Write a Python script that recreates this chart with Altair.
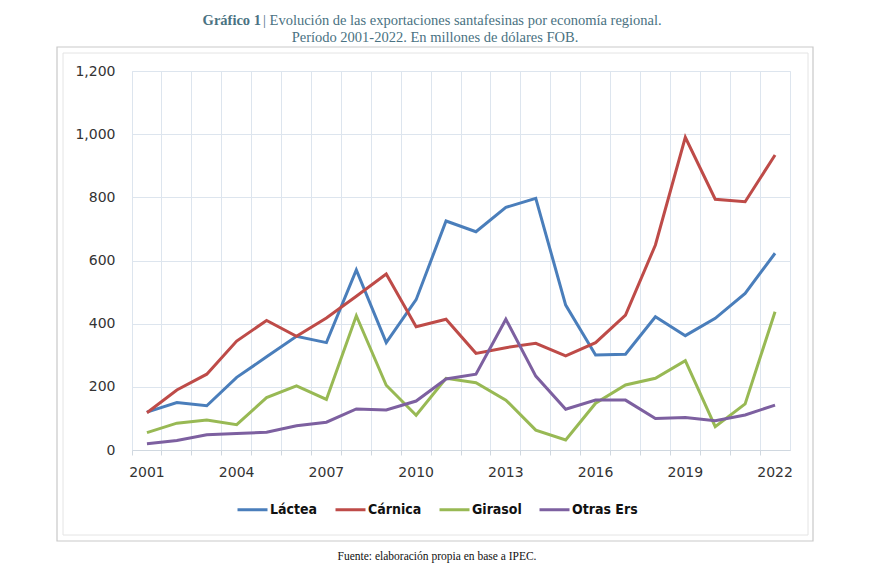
import altair as alt
import pandas as pd

years = list(range(2001, 2023))
lactea = [120, 150, 140, 230, 295, 360, 340, 570, 340, 476, 725, 691, 768, 797, 459, 301, 303, 422, 362, 417, 496, 623]
carnica = [118, 190, 240, 345, 410, 360, 418, 487, 557, 390, 414, 306, 324, 338, 298, 340, 427, 649, 990, 794, 786, 934]
girasol = [55, 85, 95, 80, 166, 203, 160, 425, 205, 110, 227, 213, 158, 63, 32, 148, 206, 227, 283, 74, 146, 438]
otras = [20, 30, 48, 52, 56, 77, 88, 130, 127, 155, 225, 240, 414, 234, 129, 158, 158, 100, 103, 93, 111, 142]

series_names = ["Láctea", "Cárnica", "Girasol", "Otras Ers"]
series_colors = ["#4a7ebb", "#be4b48", "#98b954", "#7d60a0"]

rows = []
for name, vals in zip(series_names, [lactea, carnica, girasol, otras]):
    for y, v in zip(years, vals):
        rows.append({"year": str(y), "serie": name, "valor": v})
df = pd.DataFrame(rows)

W, H = 658, 379
grid_color = "#dde5ee"

lines = alt.Chart(df).mark_line(strokeWidth=3).encode(
    x=alt.X(
        "year:O",
        scale=alt.Scale(type="band", paddingInner=0, paddingOuter=0),
        bandPosition=0.5,
        title=None,
        axis=alt.Axis(
            bandPosition=0,
            labelExpr="(+datum.value - 2001) % 3 == 0 ? datum.value : ''",
            labelAngle=0,
            grid=True,
            gridColor=grid_color,
            domainColor="#d0d8e0",
            tickColor="#d0d8e0",
            tickSize=5,
            labelPadding=10,
            labelFont="DejaVu Sans",
            labelFontSize=14,
            labelColor="#333333",
        ),
    ),
    y=alt.Y(
        "valor:Q",
        scale=alt.Scale(domain=[0, 1200], nice=False),
        title=None,
        axis=alt.Axis(
            values=[0, 200, 400, 600, 800, 1000, 1200],
            format=",.0f",
            grid=True,
            gridColor=grid_color,
            domain=False,
            ticks=False,
            labelPadding=17,
            labelFont="DejaVu Sans",
            labelFontSize=14,
            labelColor="#333333",
        ),
    ),
    color=alt.Color(
        "serie:N",
        scale=alt.Scale(domain=series_names, range=series_colors),
        sort=series_names,
        legend=alt.Legend(
            title=None,
            orient="none",
            direction="horizontal",
            legendX=104,
            legendY=422,
            symbolType="stroke",
            symbolSize=900,
            symbolStrokeWidth=3,
            labelFont="DejaVu Sans Condensed",
            labelFontWeight="bold",
            labelFontSize=14,
            labelColor="#111111",
            labelOffset=1,
            columnPadding=11,
        ),
    ),
)

frame_outer = alt.Chart(pd.DataFrame({"a": [0]})).mark_rect(
    fill=None, stroke="#c9c9c9", strokeWidth=1.2
).encode(x=alt.value(57 - 132), x2=alt.value(813 - 132), y=alt.value(47 - 71), y2=alt.value(541 - 71))
frame_inner = alt.Chart(pd.DataFrame({"a": [0]})).mark_rect(
    fill=None, stroke="#e4e4e4", strokeWidth=1
).encode(x=alt.value(63 - 132), x2=alt.value(808 - 132), y=alt.value(53 - 71), y2=alt.value(535 - 71))

title_color = "#4a7282"
t1a = alt.Chart(pd.DataFrame({"t": ["Gráfico 1"]})).mark_text(
    font="Liberation Serif", fontSize=14.5, fontWeight="bold", align="right", color=title_color
).encode(text="t:N", x=alt.value(261 - 132), y=alt.value(21 - 71))
t1b = alt.Chart(pd.DataFrame({"t": ["| Evolución de las exportaciones santafesinas por economía regional."]})).mark_text(
    font="Liberation Serif", fontSize=14.5, align="left", color=title_color
).encode(text="t:N", x=alt.value(263 - 132), y=alt.value(21 - 71))
t2 = alt.Chart(pd.DataFrame({"t": ["Período 2001-2022. En millones de dólares FOB."]})).mark_text(
    font="Liberation Serif", fontSize=14.5, align="center", color=title_color
).encode(text="t:N", x=alt.value(435 - 132), y=alt.value(38 - 71))
src = alt.Chart(pd.DataFrame({"t": ["Fuente: elaboración propia en base a IPEC."]})).mark_text(
    font="Liberation Serif", fontSize=11.5, align="center", color="#111111"
).encode(text="t:N", x=alt.value(437 - 132), y=alt.value(557 - 71))

chart = alt.layer(frame_outer, frame_inner, lines, t1a, t1b, t2, src).properties(
    width=W,
    height=H,
    autosize=alt.AutoSizeParams(type="none"),
    padding={"left": 124, "top": 63, "right": 72, "bottom": 122},
).configure_view(stroke=grid_color)

chart.save("out.html", embed_options={"renderer": "svg", "actions": False})
